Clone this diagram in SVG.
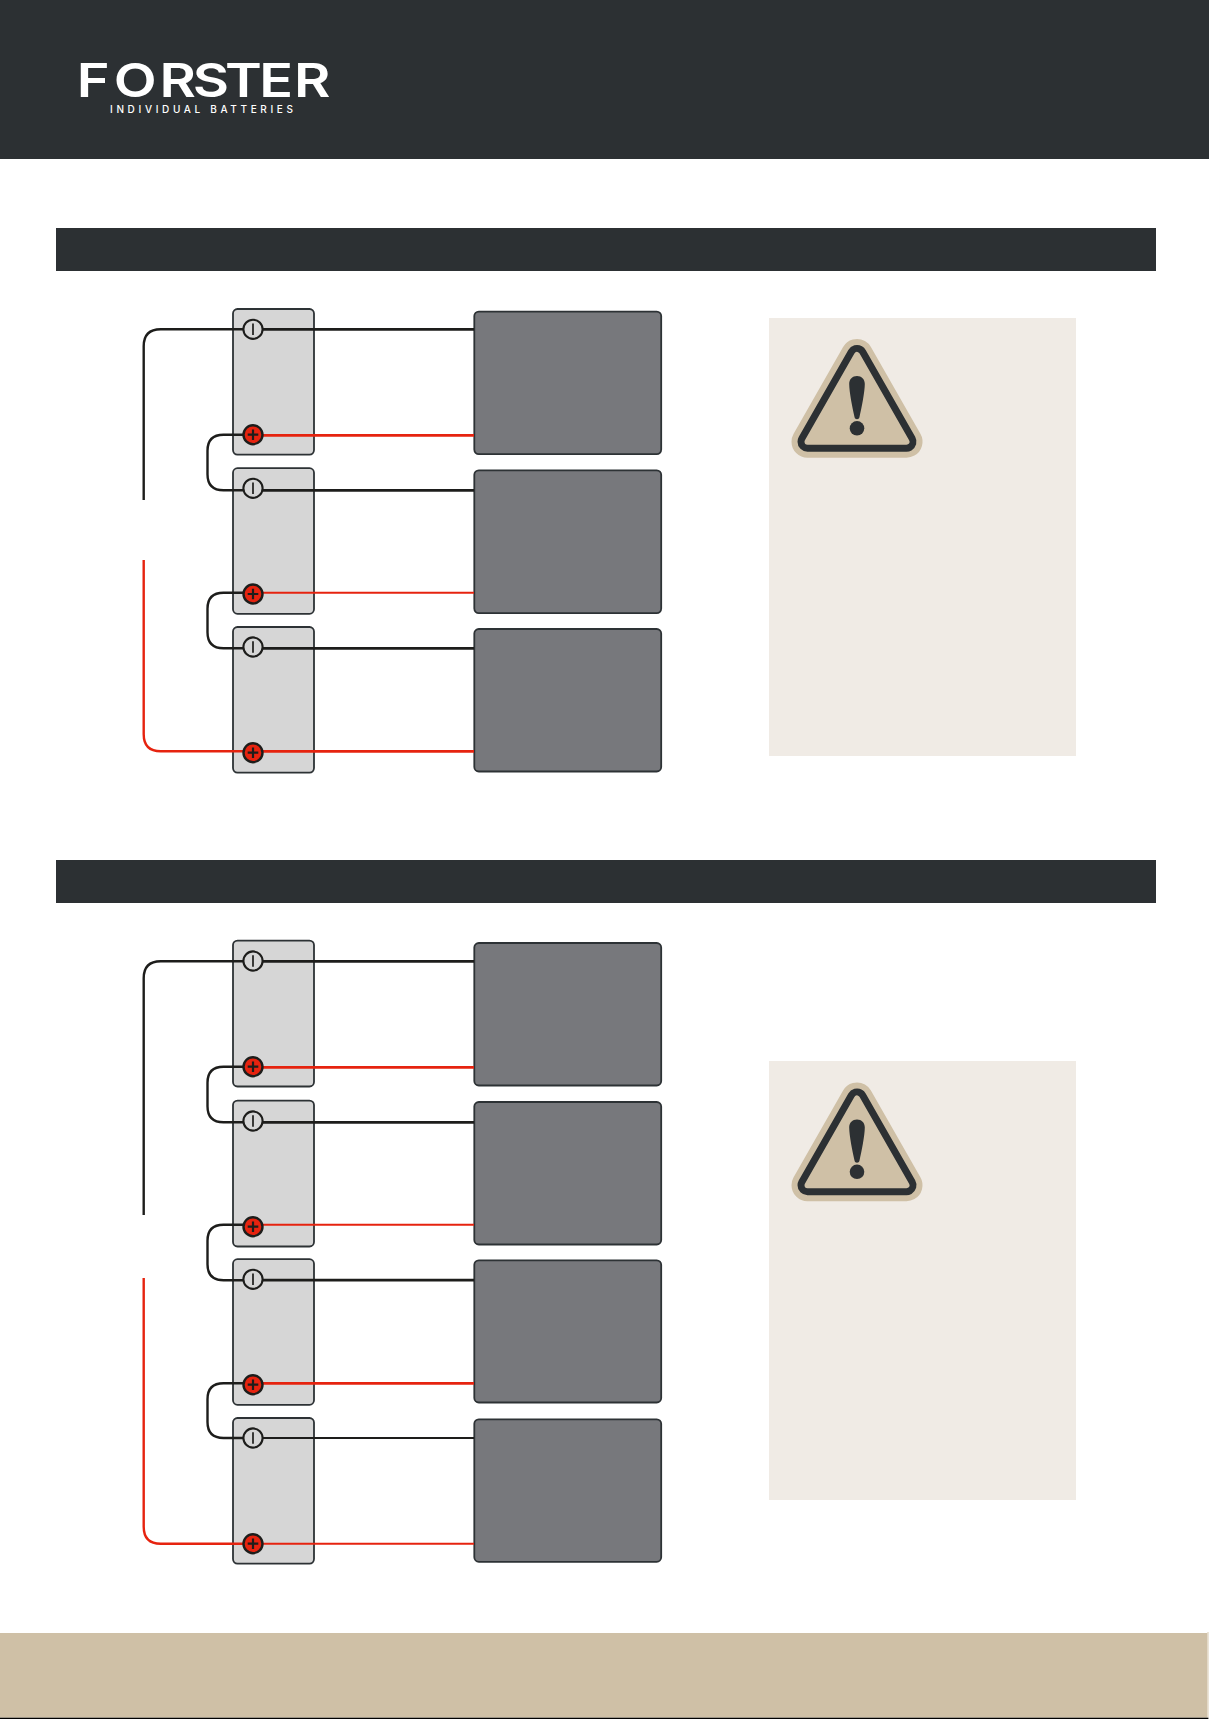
<svg xmlns="http://www.w3.org/2000/svg" width="1209" height="1719" viewBox="0 0 1209 1719">
<style>
.band{fill:#2c3033}
.panel{fill:#f0ebe5}
.batt{fill:#d6d6d6;stroke:#2d3235;stroke-width:1.8}
.box{fill:#77787c;stroke:#2d3235;stroke-width:1.8}
.w{fill:none;stroke-linecap:butt}
.k{stroke:#1d1d1b}
.r{stroke:#e6230f}
.t3{stroke-width:2.7}
.t2{stroke-width:1.9}
.t25{stroke-width:2.4}
.neg{fill:#d6d6d6;stroke:#1d1d1b;stroke-width:2.1}
.pos{fill:#e6230f;stroke:#1d1d1b;stroke-width:2.4}
.sym{stroke:#1d1d1b;stroke-width:1.7;fill:none}
.symp{stroke:#1d1d1b;stroke-width:2.2;fill:none}
</style>
<defs>
<g id="neg"><circle r="9.6" class="neg"/><path class="sym" d="M0-5.7V5.7"/></g>
<g id="pos"><circle r="9.5" class="pos"/><path class="symp" d="M-5.3 0H5.3M0-5.3V5.3"/></g>
<g id="warn">
<path d="M857 355L906.5 441.7H807.5Z" fill="#cfc0a6" stroke="#cfc0a6" stroke-width="32" stroke-linejoin="round"/>
<path d="M857 355L906.5 441.7H807.5Z" fill="#2c3033" stroke="#2c3033" stroke-width="20" stroke-linejoin="round"/>
<path d="M857 355L906.5 441.7H807.5Z" fill="#cfc0a6" stroke="#cfc0a6" stroke-width="6" stroke-linejoin="round"/>
<path d="M857 376C861.5 376 864.8 379 864.8 384C864.8 392 861.5 408 859.5 417C859 420 855 420 854.5 417C852.5 408 849.2 392 849.2 384C849.2 379 852.5 376 857 376Z" fill="#2c3033"/>
<circle cx="857" cy="428.3" r="7.3" fill="#2c3033"/>
</g>
</defs>
<rect width="1209" height="1719" fill="#fff"/>
<g id="header">
<rect class="band" width="1209" height="159"/>
<text transform="scale(1.2 1)" x="64 94.8 133 160.6 187.5 216 245" y="97" font-family="Inter, sans-serif" font-weight="600" font-size="46.5" fill="#fff">FORSTER</text>
<text x="110" y="113.4" font-family="Inter, sans-serif" font-weight="500" font-size="10" fill="#fff" textLength="183" lengthAdjust="spacing">INDIVIDUAL BATTERIES</text>
</g>
<rect id="band-1" class="band" x="56" y="228" width="1100" height="43"/>
<rect id="band-2" class="band" x="56" y="860" width="1100" height="43"/>
<rect id="panel-1" class="panel" x="769" y="318" width="307" height="438"/>
<rect id="panel-2" class="panel" x="769" y="1061" width="307" height="439"/>
<g id="warning-1"><use href="#warn"/></g>
<g id="warning-2"><use href="#warn" y="743.5"/></g>

<g id="batteries">
<rect id="battery-1" class="batt" x="233" y="309" width="81" height="145.6" rx="4.5"/>
<rect id="battery-2" class="batt" x="233" y="468.2" width="81" height="145.6" rx="4.5"/>
<rect id="battery-3" class="batt" x="233" y="627" width="81" height="145.6" rx="4.5"/>
<rect id="battery-4" class="batt" x="233" y="940.6" width="81" height="145.9" rx="4.5"/>
<rect id="battery-5" class="batt" x="233" y="1100.6" width="81" height="145.9" rx="4.5"/>
<rect id="battery-6" class="batt" x="233" y="1259.2" width="81" height="145.6" rx="4.5"/>
<rect id="battery-7" class="batt" x="233" y="1418" width="81" height="145.6" rx="4.5"/>
</g>
<g id="units">
<rect id="unit-1" class="box" x="474.3" y="311.6" width="186.9" height="142.5" rx="4.5"/>
<rect id="unit-2" class="box" x="474.3" y="470.3" width="186.9" height="142.8" rx="4.5"/>
<rect id="unit-3" class="box" x="474.3" y="629" width="186.9" height="142.5" rx="4.5"/>
<rect id="unit-4" class="box" x="474.3" y="943" width="186.9" height="142.5" rx="4.5"/>
<rect id="unit-5" class="box" x="474.3" y="1102" width="186.9" height="142.5" rx="4.5"/>
<rect id="unit-6" class="box" x="474.3" y="1260.3" width="186.9" height="142.2" rx="4.5"/>
<rect id="unit-7" class="box" x="474.3" y="1419.3" width="186.9" height="142.5" rx="4.5"/>
</g>
<g id="connectors">
<path class="w k t3" d="M253 329.3H474"/>
<path class="w r t3" d="M253 435.3H474"/>
<path class="w k t3" d="M253 490.3H474"/>
<path class="w r t2" d="M253 592.7H474"/>
<path class="w k t3" d="M253 648.3H474"/>
<path class="w r t3" d="M253 751.3H474"/>
<path class="w k t3" d="M253 961.3H474"/>
<path class="w r t3" d="M253 1067.3H474"/>
<path class="w k t3" d="M253 1122.3H474"/>
<path class="w r t2" d="M253 1224.7H474"/>
<path class="w k t3" d="M253 1280.2H474"/>
<path class="w r t3" d="M253 1383.3H474"/>
<path class="w k t2" d="M253 1438H474"/>
<path class="w r t2" d="M253 1543.7H474"/>
<path class="w k t25" d="M143.7 500V346.3Q143.7 329.3 160.7 329.3H253"/>
<path class="w r t25" d="M143.7 560V734.3Q143.7 751.3 160.7 751.3H253"/>
<path class="w k t25" d="M253 434.7H223.5Q207.5 434.7 207.5 450.7V474.3Q207.5 490.3 223.5 490.3H253"/>
<path class="w k t25" d="M253 592.7H223.5Q207.5 592.7 207.5 608.7V632.3Q207.5 648.3 223.5 648.3H253"/>
<path class="w k t25" d="M143.7 1215V978.3Q143.7 961.3 160.7 961.3H253"/>
<path class="w r t25" d="M143.7 1278V1526.7Q143.7 1543.7 160.7 1543.7H253"/>
<path class="w k t25" d="M253 1066.7H223.5Q207.5 1066.7 207.5 1082.7V1106.3Q207.5 1122.3 223.5 1122.3H253"/>
<path class="w k t25" d="M253 1224.7H223.5Q207.5 1224.7 207.5 1240.7V1264.2Q207.5 1280.2 223.5 1280.2H253"/>
<path class="w k t25" d="M253 1383.3H223.5Q207.5 1383.3 207.5 1399.3V1422Q207.5 1438 223.5 1438H253"/>
</g>
<g id="terminals">
<use href="#neg" x="253" y="329.3"/><use href="#pos" x="253" y="434.7"/>
<use href="#neg" x="253" y="488.3"/><use href="#pos" x="253" y="594"/>
<use href="#neg" x="253" y="647"/><use href="#pos" x="253" y="752.7"/>
<use href="#neg" x="253" y="961"/><use href="#pos" x="253" y="1066.7"/>
<use href="#neg" x="253" y="1121"/><use href="#pos" x="253" y="1226.7"/>
<use href="#neg" x="253" y="1279.3"/><use href="#pos" x="253" y="1384.7"/>
<use href="#neg" x="253" y="1438"/><use href="#pos" x="253" y="1543.7"/>
</g>
<g id="footer">
<rect x="1207.3" y="1632" width="1.4" height="85.7" fill="#e3d9c6"/>
<rect x="0" y="1633" width="1207.3" height="84.7" fill="#cfc0a6"/>
<rect x="0" y="1717.7" width="1208.4" height="1.3" fill="#000"/>
</g>
</svg>
